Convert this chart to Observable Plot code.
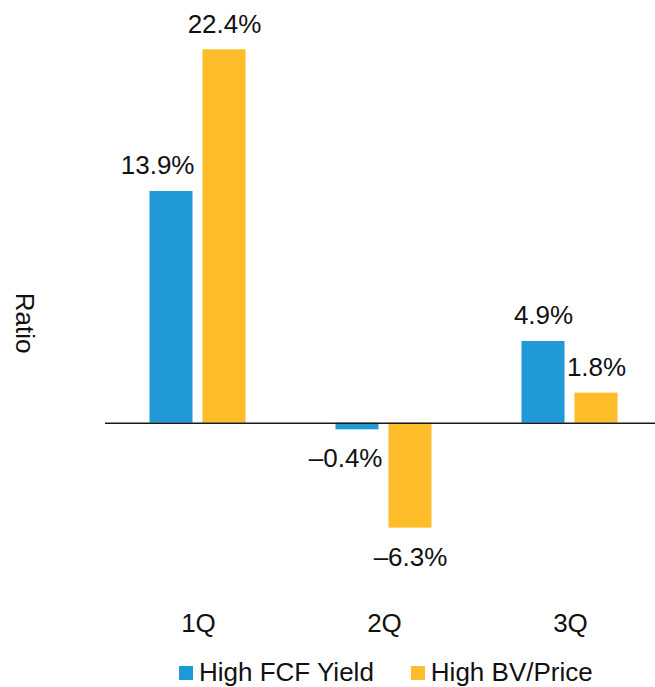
<!DOCTYPE html>
<html><head><meta charset="utf-8">
<script src="https://cdn.jsdelivr.net/npm/d3@7"></script>
<script src="https://cdn.jsdelivr.net/npm/@observablehq/plot@0.6"></script>
<style>
html,body{margin:0;padding:0;background:#fff;overflow:hidden;font-family:"Liberation Sans",Arial,sans-serif;}
</style></head><body><div id="chart"></div>
<script>
const quarters = ["1Q", "2Q", "3Q"];
const series = ["High FCF Yield", "High BV/Price"];
const fcfYield = [13.9, -0.4, 4.9];
const bvPrice = [22.4, -6.3, 1.8];
const colors = ["#1f9ad6", "#fdbd2b"];

const data = [];
quarters.forEach((q, i) => {
  data.push({quarter: q, series: series[0], value: fcfYield[i], other: bvPrice[i]});
  data.push({quarter: q, series: series[1], value: bvPrice[i], other: fcfYield[i]});
});
const fmt = v => (v < 0 ? "\u2013" : "") + Math.abs(v).toFixed(1) + "%";
const font = "'Liberation Sans', Arial, sans-serif";
// labels of shorter left bars are right-aligned to the bar so they clear the taller neighbour
const shifted = d => d.series === series[0] && Math.abs(d.value) < Math.abs(d.other);
const common = {fx: "quarter", x: "series", y: "value", text: d => fmt(d.value), fill: "#111"};

const chart = Plot.plot({
  width: 655, height: 656,
  marginLeft: 104.5, marginRight: -7.5, marginTop: 49.3, marginBottom: 60,
  style: {fontFamily: font, fontSize: "26px", color: "#111", background: "#fff", overflow: "visible"},
  fx: {domain: quarters, padding: 0, label: null, axis: "bottom", tickSize: 0, tickPadding: 17},
  x: {domain: series, paddingInner: 0.185, paddingOuter: 0.824, axis: null},
  y: {domain: [-10.4, 22.4], axis: null},
  color: {domain: series, range: colors},
  marks: [
    Plot.barY(data, {fx: "quarter", x: "series", y: "value", fill: "series", inset: 0}),
    Plot.ruleY([0], {stroke: "#1a1a1a", strokeWidth: 1.5}),
    Plot.text(data.filter(d => d.value >= 0 && !shifted(d)), {...common, lineAnchor: "bottom", dy: -17}),
    Plot.text(data.filter(d => d.value >= 0 && shifted(d)), {...common, lineAnchor: "bottom", dy: -17, textAnchor: "end", dx: 23}),
    Plot.text(data.filter(d => d.value < 0 && !shifted(d)), {...common, lineAnchor: "top", dy: 19}),
    Plot.text(data.filter(d => d.value < 0 && shifted(d)), {...common, lineAnchor: "top", dy: 19, textAnchor: "end", dx: 25}),
    Plot.text(["Ratio"], {frameAnchor: "left", textAnchor: "middle", rotate: 90, dx: -81.5, facet: "super", fill: "#111"})
  ]
});
document.getElementById("chart").appendChild(chart);

const legend = Plot.legend({color: {domain: series, range: colors}, legend: "swatches", swatchSize: 14});
legend.style.marginLeft = "179px";
legend.style.fontSize = "26px";
legend.style.fontFamily = font;
legend.style.color = "#111";
legend.style.marginTop = "0px";
legend.querySelectorAll("svg").forEach(s => { s.style.marginRight = "6px"; });
Array.from(legend.children).forEach(c => { if (c.tagName.toLowerCase() === "span") c.style.marginRight = "37px"; });
document.getElementById("chart").appendChild(legend);
</script></body></html>
